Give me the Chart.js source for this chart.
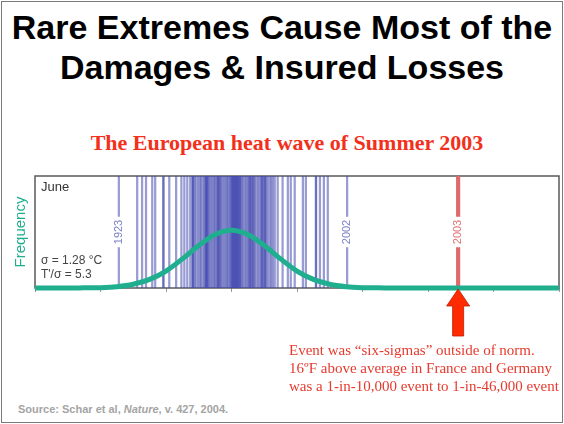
<!DOCTYPE html>
<html>
<head>
<meta charset="utf-8">
<script src="https://cdn.jsdelivr.net/npm/chart.js@4"></script>
<style>
  body { margin: 0; background: #fff; }
  #slide { position: relative; width: 564px; height: 424px; overflow: hidden; font-family: "Liberation Sans", Arial, sans-serif; }
  .frame { position: absolute; left: 1px; top: 1px; width: 562px; height: 422px; box-sizing: border-box; border: 1px solid #7a7a7a; }
  .title { position: absolute; left: 0; top: 7px; width: 564px; text-align: center; font-weight: bold; font-size: 34px; line-height: 40px; color: #000; }
  .subtitle { position: absolute; left: 10px; top: 130px; width: 554px; text-align: center; font-family: "Liberation Serif", "Times New Roman", serif; font-weight: bold; font-size: 22px; line-height: 26px; color: #f2301b; }
  .note { position: absolute; left: 289px; top: 341px; font-family: "Liberation Serif", "Times New Roman", serif; font-size: 15px; line-height: 18px; color: #e63b2e; white-space: nowrap; }
  .source { position: absolute; left: 18px; top: 403px; font-weight: bold; font-size: 11px; color: #a4a4a4; }
  #plot { position: absolute; left: 0; top: 170px; width: 564px; height: 172px; }
</style>
</head>
<body>
<div id="slide">
  <div class="frame"></div>
  <div class="title">Rare Extremes Cause Most of the<br>Damages &amp; Insured Losses</div>
  <div class="subtitle">The European heat wave of Summer 2003</div>
  <div id="plot"><canvas id="heatChart"></canvas></div>
  <div class="note">Event was “six-sigmas” outside of norm.<br>16ºF above average in France and Germany<br>was a 1-in-10,000 event to 1-in-46,000 event</div>
  <div class="source">Source: Schar et al, <i>Nature</i>, v. 427, 2004.</div>
</div>
<script>
// June temperature anomaly (°C) and fitted frequency curve
const curveTemps = [-6, -5.5, -5, -4.5, -4, -3.5, -3, -2.5, -2, -1.5, -1, -0.5, 0, 0.5, 1, 1.5, 2, 2.5, 3, 3.5, 4, 4.5, 5, 5.5, 6, 7, 8, 9, 10];
const curveFreq  = [0, 0, 0, 0.1, 0.2, 0.7, 2, 4.6, 9.1, 15.6, 22.8, 28.7, 31, 28.7, 22.8, 15.6, 9.1, 4.6, 2, 0.7, 0.2, 0.1, 0, 0, 0, 0, 0, 0, 0];
const yMax = 60;

// one mark per June, 1864-2002
const juneAnomalies = [
  -3.44, -2.88, -2.73, -2.61, -2.42, -2.33, -2.08, -2.08, -1.9, -1.69, -1.53, -1.44, -1.35,
  -1.26, -1.2, -1.17, -1.17, -1.13, -1.08, -1.02, -0.97, -0.93, -0.88, -0.83, -0.8, -0.77, -0.77,
  -0.74, -0.74, -0.7, -0.67, -0.62, -0.58, -0.54, -0.5, -0.46, -0.43, -0.4, -0.4, -0.37, -0.34,
  -0.31, -0.27, -0.22, -0.18, -0.14, -0.1, -0.06, -0.03, 0.0, 0.02, 0.04, 0.04, 0.07, 0.09, 0.09,
  0.12, 0.14, 0.14, 0.17, 0.19, 0.19, 0.22, 0.25, 0.25, 0.28, 0.31, 0.35, 0.4, 0.44, 0.49, 0.52,
  0.56, 0.56, 0.6, 0.64, 0.64, 0.68, 0.71, 0.76, 0.81, 0.86, 0.9, 0.94, 0.94, 0.98, 1.02, 1.02,
  1.06, 1.1, 1.16, 1.21, 1.26, 1.32, 1.41, 1.56, 1.72, 1.81, 1.93, 2.18, 2.27, 2.58, 2.58, 2.7,
  2.82, 2.94, 3.53
];
const markedYears = ['1923', '2002'];
const markedAnomalies = [-3.44, 3.53];
const heatYear = '2003';
const heatAnomaly = 6.92;

const teal = '#1fae8e';

// year labels on the marks, notes inside the box, and the arrow under 2003
const decorations = {
  id: 'decorations',
  beforeDatasetsDraw(chart) {
    const { ctx, chartArea: a } = chart;
    ctx.save();
    ctx.strokeStyle = '#5a5a5a';
    ctx.lineWidth = 1.5;
    ctx.strokeRect(a.left, a.top, a.right - a.left, a.bottom - a.top);
    ctx.restore();
  },
  afterDatasetsDraw(chart) {
    const { ctx, chartArea: a, scales: { x } } = chart;
    const cy = (a.top + a.bottom) / 2;
    const tag = (text, value, color) => {
      const px = x.getPixelForValue(value);
      ctx.save();
      ctx.translate(px, cy);
      ctx.rotate(-Math.PI / 2);
      ctx.font = '11px "Liberation Sans", Arial';
      const w = ctx.measureText(text).width;
      ctx.fillStyle = '#fff';
      ctx.fillRect(-w / 2 - 3, -6, w + 6, 12);
      ctx.fillStyle = color;
      ctx.textAlign = 'center';
      ctx.textBaseline = 'middle';
      ctx.fillText(text, 0, 0);
      ctx.restore();
    };
    markedYears.forEach((y, i) => tag(y, markedAnomalies[i], '#7d81c6'));
    tag(heatYear, heatAnomaly, '#e07272');

    ctx.save();
    ctx.fillStyle = '#333';
    ctx.font = '13px "Liberation Sans", Arial';
    ctx.textBaseline = 'middle';
    ctx.fillText('June', a.left + 6, a.top + 11);
    ctx.font = '12px "Liberation Sans", Arial';
    ctx.fillStyle = '#444';
    ctx.fillText('σ = 1.28 °C', a.left + 6, a.bottom - 27);
    ctx.fillText("T'/σ = 5.3", a.left + 6, a.bottom - 13);
    ctx.restore();
  },
  afterDraw(chart) {
    const { ctx, chartArea: a, scales: { x } } = chart;
    const px = x.getPixelForValue(heatAnomaly);
    const top = a.bottom + 1;
    ctx.save();
    ctx.beginPath();
    ctx.moveTo(px, top);
    ctx.lineTo(px + 11.5, top + 17);
    ctx.lineTo(px + 5.5, top + 17);
    ctx.lineTo(px + 5.5, top + 47);
    ctx.lineTo(px - 5.5, top + 47);
    ctx.lineTo(px - 5.5, top + 17);
    ctx.lineTo(px - 11.5, top + 17);
    ctx.closePath();
    ctx.fillStyle = '#ff2a00';
    ctx.fill();
    ctx.strokeStyle = '#c01800';
    ctx.lineWidth = 0.8;
    ctx.stroke();
    ctx.restore();
  }
};

Chart.defaults.font.family = '"Liberation Sans", Arial, sans-serif';

new Chart(document.getElementById('heatChart'), {
  type: 'bar',
  data: {
    datasets: [
      {
        type: 'line',
        label: 'Frequency',
        data: curveTemps.map((t, i) => ({ x: t, y: curveFreq[i] })),
        borderColor: teal,
        borderWidth: 5,
        pointRadius: 0,
        cubicInterpolationMode: 'monotone',
        clip: false,
        order: 0
      },
      {
        label: heatYear,
        data: [{ x: heatAnomaly, y: yMax }],
        backgroundColor: '#e06a6a',
        barThickness: 3.5,
        grouped: false,
        order: 1
      },
      {
        label: 'June',
        data: juneAnomalies.map(v => ({ x: v, y: yMax })),
        backgroundColor: 'rgba(70, 75, 175, 0.55)',
        barThickness: 1.6,
        grouped: false,
        order: 2
      }
    ]
  },
  options: {
    responsive: true,
    maintainAspectRatio: false,
    animation: false,
    layout: { padding: { left: 4, right: 5, top: 6, bottom: 48 } },
    plugins: { legend: { display: false }, tooltip: { enabled: false } },
    scales: {
      x: {
        type: 'linear',
        min: -6,
        max: 10,
        offset: false,
        border: { display: false },
        grid: { offset: false, drawOnChartArea: false, drawTicks: true, tickLength: 4, color: '#999' },
        ticks: { stepSize: 2, callback: () => '' },
        afterFit(scale) { scale.height = 6; }
      },
      y: {
        min: 0,
        max: yMax,
        border: { display: false },
        grid: { display: false },
        ticks: { display: false },
        title: { display: true, text: 'Frequency', color: teal, font: { size: 15 }, padding: { top: 8, bottom: 0 } },
        afterFit(scale) { scale.width = 31; }
      }
    }
  },
  plugins: [decorations]
});
</script>
</body>
</html>
